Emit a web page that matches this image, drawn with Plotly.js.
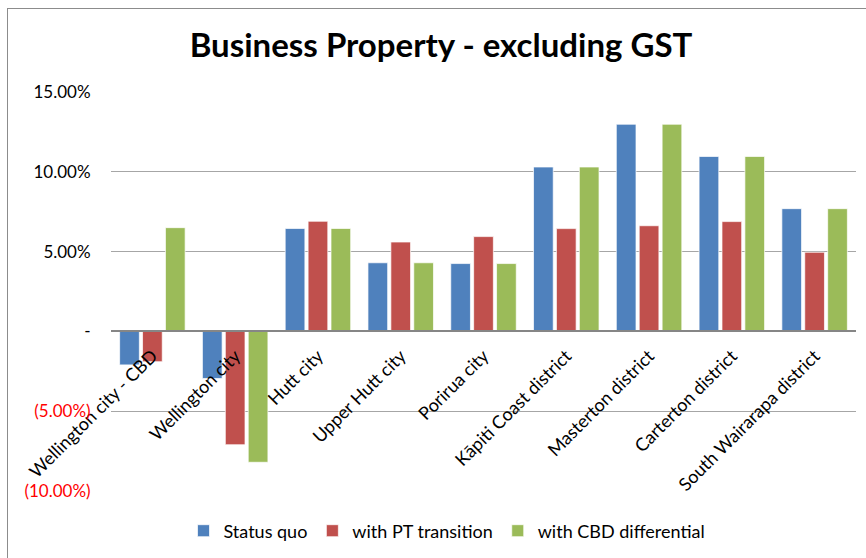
<!DOCTYPE html>
<html>
<head>
<meta charset="utf-8">
<script src="https://cdn.plot.ly/plotly-3.0.1.min.js"></script>
<style>
html,body{margin:0;padding:0;background:#fff;}
#chart{position:absolute;left:0;top:0;width:866px;height:558px;}
#frame{position:absolute;left:7px;top:8px;width:900px;height:600px;border-left:1px solid #8c8c8c;border-top:1px solid #8c8c8c;pointer-events:none;}
</style>
</head>
<body>
<div id="chart"></div>
<div id="frame"></div>
<script>
const categories = ["Wellington city - CBD","Wellington city","Hutt city","Upper Hutt city","Porirua city","Kāpiti Coast district","Masterton district","Carterton district","South Wairarapa district"];
const statusQuo = [-2.1, -2.95, 6.45, 4.3, 4.25, 10.3, 12.98, 10.96, 7.69];
const ptTransition = [-1.9, -7.1, 6.9, 5.6, 5.94, 6.44, 6.62, 6.88, 4.96];
const cbdDifferential = [6.5, -8.2, 6.45, 4.3, 4.25, 10.3, 12.98, 10.96, 7.69];
const seriesNames = ["Status quo","with PT transition","with CBD differential"];
const yTickVals = [-10,-5,0,5,10,15];
const yTickText = ['<span style="color:#ff0000">(10.00%)</span>','<span style="color:#ff0000">(5.00%)</span>','-','5.00%','10.00%','15.00%'];

const colors = ["#4F81BD","#C0504D","#9BBB59"];
const font = "Lato, 'Open Sans', sans-serif";
const traces = [statusQuo, ptTransition, cbdDifferential].map((vals,i)=>({
  type:'bar', x:categories, y:vals, name:seriesNames[i],
  marker:{color:colors[i], line:{color:'rgba(255,255,255,0.7)', width:1}},
  hoverinfo:'skip'
}));
const layout = {
  width:866, height:558,
  margin:{l:111, r:10, t:92, b:66},
  paper_bgcolor:'rgba(0,0,0,0)', plot_bgcolor:'rgba(0,0,0,0)',
  font:{family:font, color:'#000'},
  title:{text:'<b>Business Property - excluding GST</b>', font:{size:33, family:font, color:'#000'}, x:441/866, xanchor:'center', y:1-45/558, yanchor:'middle'},
  barmode:'group', bargap:0.17, bargroupgap:0.14,
  xaxis:{anchor:'free', position:0.4, tickangle:-45, tickfont:{size:18}, showgrid:false,
    showline:true, linecolor:'#868686', linewidth:2, ticks:'outside', ticklen:6, tickcolor:'rgba(0,0,0,0)', automargin:false},
  yaxis:{range:[-10,15], tickvals:yTickVals, ticktext:yTickText, tickfont:{size:17},
    showgrid:true, gridcolor:'#a6a6a6', gridwidth:1.3, zeroline:false,
    ticks:'outside', ticklen:16, tickcolor:'rgba(0,0,0,0)', showline:false, automargin:false},
  showlegend:true,
  legend:{orientation:'h', x:(447-111)/745, xanchor:'center', y:(492-531)/400, yanchor:'middle', font:{size:18}, itemclick:false}
};
Plotly.newPlot('chart', traces, layout, {staticPlot:true});
</script>
</body>
</html>
